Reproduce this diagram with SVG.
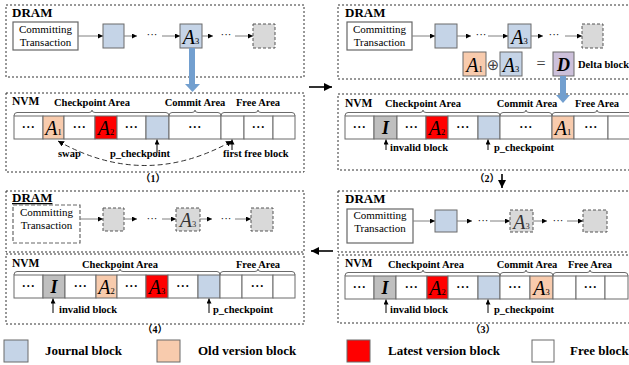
<svg xmlns="http://www.w3.org/2000/svg" width="629" height="365" viewBox="0 0 629 365">
<style>
text{font-family:"Liberation Serif","Times New Roman",serif;fill:#000}
.panel{fill:none;stroke:#333;stroke-width:1;stroke-dasharray:2,2}
.ttl{font-size:13px;font-weight:bold}
.area{font-size:10.5px;font-weight:bold;text-anchor:middle}
.ct{font-size:11px;text-anchor:middle}
.box{fill:#fff;stroke:#666;stroke-width:1.2}
.cell{stroke:#6b6b6b;stroke-width:1}
.j{fill:#c5d4e7}.o{fill:#f8cbad}.r{fill:#ff0000}.w{fill:#fff}.g{fill:#bfbfbf}.p{fill:#ccc0da}
.dg{fill:#d9d9d9;stroke:#555;stroke-width:1;stroke-dasharray:3,2}
.dots{font-size:12px;font-weight:bold;text-anchor:middle;letter-spacing:0.5px}
.sdots{font-size:11px;text-anchor:middle}
.A{font-size:20px;font-style:italic;text-anchor:middle}
.sub{font-size:8.5px;font-style:normal}
.I{font-size:18px;font-style:italic;font-weight:bold;text-anchor:middle}
.lbl{font-size:10.5px;font-weight:bold}
.num{font-size:10px;font-weight:bold;text-anchor:middle;font-family:"Liberation Serif","Noto Sans CJK SC",serif}
.leg{font-size:13px;font-weight:bold}
.brace{fill:none;stroke:#6b6b6b;stroke-width:1}
.fl{stroke:#808080;stroke-width:1;fill:none;marker-end:url(#ah)}
.up{stroke:#000;stroke-width:1;fill:none;marker-end:url(#ah)}
.big{stroke:#000;stroke-width:1.6;fill:none;marker-end:url(#bh)}
.blue{fill:#729fcf}
</style>
<defs>
<marker id="ah" viewBox="0 0 6 6" refX="6" refY="3" markerWidth="5" markerHeight="5" orient="auto" markerUnits="userSpaceOnUse"><path d="M0,0 L6,3 L0,6 z" fill="#000"/></marker>
<marker id="as" viewBox="0 0 6 6" refX="6" refY="3" markerWidth="6" markerHeight="6" orient="auto-start-reverse" markerUnits="userSpaceOnUse"><path d="M0,0 L6,3 L0,6 z" fill="#000"/></marker>
<marker id="bh" viewBox="0 0 8 8" refX="8" refY="4" markerWidth="8" markerHeight="8" orient="auto" markerUnits="userSpaceOnUse"><path d="M0,0 L8,4 L0,8 z" fill="#000"/></marker>
</defs>

<!-- ================= Panel 1 (top-left) ================= -->
<g id="p1-dram">
<rect class="panel" x="6" y="5" width="298" height="72"/>
<text class="ttl" x="12" y="17">DRAM</text>
</g>
<g id="p1-tx"><rect class="box" x="13" y="22" width="65" height="28"/><text class="ct" x="45.5" y="33">Committing</text><text class="ct" x="45.5" y="46">Transaction</text></g>
<g id="p1-b1"><rect class="cell j" x="103" y="24" width="21" height="24"/></g>
<g id="p1-d1"><text class="sdots" x="152" y="38">···</text></g>
<g id="p1-b2"><rect class="cell j" x="180" y="24" width="22" height="24"/><text class="A" x="191" y="44">A<tspan class="sub">3</tspan></text></g>
<g id="p1-d2"><text class="sdots" x="226" y="38">···</text></g>
<g id="p1-b3"><rect class="dg" x="253" y="24" width="22" height="24"/></g>

<g id="p1-nvm">
<rect class="panel" x="6" y="93" width="298" height="79"/>
<text class="ttl" x="12" y="105" style="font-size:11.5px">NVM</text>
<text class="area" x="92" y="106">Checkpoint Area</text>
<text class="area" x="195" y="106">Commit Area</text>
<text class="area" x="258" y="106">Free Area</text>
<path class="brace" d="M14,116 Q14,112.5 17,112.5 L89,112.5 Q92,112.5 92,110 Q92,112.5 95,112.5 L166,112.5 Q169,112.5 169,116"/>
<path class="brace" d="M169,116 Q169,112.5 172,112.5 L192,112.5 Q195,112.5 195,110 Q195,112.5 198,112.5 L218,112.5 Q221,112.5 221,116"/>
<path class="brace" d="M221,116 Q221,112.5 224,112.5 L255,112.5 Q258,112.5 258,110 Q258,112.5 261,112.5 L292,112.5 Q295,112.5 295,116"/>
</g>
<g id="p1-c1"><rect class="cell w" x="14" y="116" width="29" height="23"/><text class="dots" x="28.5" y="131">···</text></g>
<g id="p1-c2"><rect class="cell o" x="43" y="116" width="21" height="23"/><text class="A" x="53.5" y="135">A<tspan class="sub">1</tspan></text></g>
<g id="p1-c3"><rect class="cell w" x="64" y="116" width="31" height="23"/><text class="dots" x="79.5" y="131">···</text></g>
<g id="p1-c4"><rect class="cell r" x="95" y="116" width="22" height="23"/><text class="A" x="106" y="135">A<tspan class="sub">2</tspan></text></g>
<g id="p1-c5"><rect class="cell w" x="117" y="116" width="29" height="23"/><text class="dots" x="131.5" y="131">···</text></g>
<g id="p1-c6"><rect class="cell j" x="146" y="116" width="23" height="23"/></g>
<g id="p1-c7"><rect class="cell w" x="169" y="116" width="52" height="23"/><text class="dots" x="195" y="131">···</text></g>
<g id="p1-c8"><rect class="cell w" x="221" y="116" width="23" height="23"/></g>
<g id="p1-c9"><rect class="cell w" x="244" y="116" width="29" height="23"/><text class="dots" x="258.5" y="131">···</text></g>
<g id="p1-c10"><rect class="cell w" x="273" y="116" width="22" height="23"/></g>
<g id="p1-labels">
<text class="lbl" x="58" y="157">swap</text>
<text class="lbl" x="110" y="157">p_checkpoint</text>
<text class="lbl" x="223" y="157">first free block</text>
<text class="num" x="153" y="182">（1）</text>
</g>

<!-- ================= Panel 2 (top-right) ================= -->
<g id="p2-dram">
<rect class="panel" x="338" y="5" width="300" height="74"/>
<text class="ttl" x="345" y="17">DRAM</text>
</g>
<g id="p2-tx"><rect class="box" x="347" y="22" width="65" height="28"/><text class="ct" x="379.5" y="33">Committing</text><text class="ct" x="379.5" y="46">Transaction</text></g>
<g id="p2-b1"><rect class="cell j" x="435" y="24" width="22" height="24"/></g>
<g id="p2-d1"><text class="sdots" x="481" y="38">···</text></g>
<g id="p2-b2"><rect class="cell j" x="508" y="24" width="23" height="24"/><text class="A" x="519.5" y="44">A<tspan class="sub">3</tspan></text></g>
<g id="p2-d2"><text class="sdots" x="554" y="38">···</text></g>
<g id="p2-b3"><rect class="dg" x="582" y="24" width="21" height="24"/></g>
<g id="p2-x1"><rect class="cell o" x="463" y="52" width="23" height="24"/><text class="A" x="474.5" y="72">A<tspan class="sub">1</tspan></text></g>
<g id="p2-op1"><text x="493" y="70" style="font-family:'DejaVu Sans',sans-serif;font-size:15px;text-anchor:middle;fill:#444">⊕</text></g>
<g id="p2-x2"><rect class="cell j" x="500" y="52" width="22" height="24"/><text class="A" x="511" y="72">A<tspan class="sub">3</tspan></text></g>
<g id="p2-op2"><text x="541" y="69" style="font-size:16px;text-anchor:middle;fill:#444">=</text></g>
<g id="p2-delta"><rect class="cell p" x="553" y="52" width="21" height="24"/><text class="I" x="563.5" y="71">D</text><text class="lbl" x="578" y="68">Delta block</text></g>

<g id="p2-nvm">
<rect class="panel" x="338" y="94" width="300" height="76"/>
<text class="ttl" x="345" y="107" style="font-size:11.5px">NVM</text>
<text class="area" x="423" y="107">Checkpoint Area</text>
<text class="area" x="527" y="107">Commit Area</text>
<text class="area" x="597" y="107">Free Area</text>
<path class="brace" d="M345,116 Q345,112.5 348,112.5 L420,112.5 Q423,112.5 423,110 Q423,112.5 426,112.5 L497,112.5 Q500,112.5 500,116"/>
<path class="brace" d="M500,116 Q500,112.5 503,112.5 L523,112.5 Q526,112.5 526,110 Q526,112.5 529,112.5 L549,112.5 Q552,112.5 552,116"/>
<path class="brace" d="M552,116 Q552,112.5 555,112.5 L594,112.5 Q597,112.5 597,110 Q597,112.5 600,112.5 L639,112.5 Q642,112.5 642,116"/>
</g>
<g id="p2-c1"><rect class="cell w" x="345" y="116" width="29" height="23"/><text class="dots" x="359.5" y="131">···</text></g>
<g id="p2-c2"><rect class="cell g" x="374" y="116" width="23" height="23"/><text class="I" x="385.5" y="134">I</text></g>
<g id="p2-c3"><rect class="cell w" x="397" y="116" width="29" height="23"/><text class="dots" x="411.5" y="131">···</text></g>
<g id="p2-c4"><rect class="cell r" x="426" y="116" width="22" height="23"/><text class="A" x="437" y="135">A<tspan class="sub">2</tspan></text></g>
<g id="p2-c5"><rect class="cell w" x="448" y="116" width="30" height="23"/><text class="dots" x="463" y="131">···</text></g>
<g id="p2-c6"><rect class="cell j" x="478" y="116" width="22" height="23"/></g>
<g id="p2-c7"><rect class="cell w" x="500" y="116" width="52" height="23"/><text class="dots" x="526" y="131">···</text></g>
<g id="p2-c8"><rect class="cell o" x="552" y="116" width="22" height="23"/><text class="A" x="563" y="135">A<tspan class="sub">1</tspan></text></g>
<g id="p2-c9"><rect class="cell w" x="574" y="116" width="34" height="23"/><text class="dots" x="591" y="131">···</text></g>
<g id="p2-c10"><rect class="cell w" x="608" y="116" width="32" height="23"/></g>
<g id="p2-labels">
<text class="lbl" x="390" y="151">invalid block</text>
<text class="lbl" x="494" y="151">p_checkpoint</text>
<text class="num" x="487" y="182">（2）</text>
</g>

<!-- ================= Panel 4 (bottom-left) ================= -->
<g id="p4-dram">
<rect class="panel" x="6" y="191" width="298" height="61"/>
<text class="ttl" x="12" y="202" text-decoration="underline">DRAM</text>
</g>
<g id="p4-tx"><rect class="box" x="13" y="205" width="67" height="38" style="stroke-dasharray:4,2"/><text class="ct" x="46.5" y="216">Committing</text><text class="ct" x="46.5" y="229">Transaction</text></g>
<g id="p4-b1"><rect class="dg" x="103" y="208" width="21" height="23"/></g>
<g id="p4-d1"><text class="sdots" x="152" y="222">···</text></g>
<g id="p4-b2"><rect class="dg" x="176" y="208" width="24" height="23"/><text class="A" x="188" y="227" style="fill:#333">A<tspan class="sub">3</tspan></text></g>
<g id="p4-d2"><text class="sdots" x="226" y="222">···</text></g>
<g id="p4-b3"><rect class="dg" x="251" y="208" width="22" height="23"/></g>

<g id="p4-nvm">
<rect class="panel" x="6" y="254" width="298" height="70"/>
<text class="ttl" x="12" y="267" style="font-size:11.5px">NVM</text>
<text class="area" x="120" y="268">Checkpoint Area</text>
<text class="area" x="258" y="268">Free Area</text>
<path class="brace" d="M14,275 Q14,271.5 17,271.5 L117,271.5 Q120,271.5 120,269 Q120,271.5 123,271.5 L217,271.5 Q220,271.5 220,275"/>
<path class="brace" d="M220,275 Q220,271.5 223,271.5 L255,271.5 Q258,271.5 258,269 Q258,271.5 261,271.5 L292,271.5 Q295,271.5 295,275"/>
</g>
<g id="p4-c1"><rect class="cell w" x="14" y="275" width="29" height="23"/><text class="dots" x="28.5" y="290">···</text></g>
<g id="p4-c2"><rect class="cell g" x="43" y="275" width="22" height="23"/><text class="I" x="54" y="293">I</text></g>
<g id="p4-c3"><rect class="cell w" x="65" y="275" width="31" height="23"/><text class="dots" x="80.5" y="290">···</text></g>
<g id="p4-c4"><rect class="cell o" x="96" y="275" width="21" height="23"/><text class="A" x="106.5" y="294">A<tspan class="sub">2</tspan></text></g>
<g id="p4-c5"><rect class="cell w" x="117" y="275" width="29" height="23"/><text class="dots" x="131.5" y="290">···</text></g>
<g id="p4-c6"><rect class="cell r" x="146" y="275" width="22" height="23"/><text class="A" x="157" y="294">A<tspan class="sub">3</tspan></text></g>
<g id="p4-c7"><rect class="cell w" x="168" y="275" width="30" height="23"/><text class="dots" x="183" y="290">···</text></g>
<g id="p4-c8"><rect class="cell j" x="198" y="275" width="22" height="23"/></g>
<g id="p4-c9"><rect class="cell w" x="220" y="275" width="22" height="23"/></g>
<g id="p4-c10"><rect class="cell w" x="242" y="275" width="31" height="23"/><text class="dots" x="257.5" y="290">···</text></g>
<g id="p4-c11"><rect class="cell w" x="273" y="275" width="22" height="23"/></g>
<g id="p4-labels">
<text class="lbl" x="59" y="313">invalid block</text>
<text class="lbl" x="213" y="313">p_checkpoint</text>
<text class="num" x="155" y="333">（4）</text>
</g>

<!-- ================= Panel 3 (bottom-right) ================= -->
<g id="p3-dram">
<rect class="panel" x="338" y="191" width="300" height="61"/>
<text class="ttl" x="345" y="203">DRAM</text>
</g>
<g id="p3-tx"><rect class="box" x="347" y="209" width="66" height="34"/><text class="ct" x="380" y="219">Committing</text><text class="ct" x="380" y="232">Transaction</text></g>
<g id="p3-b1"><rect class="cell j" x="435" y="210" width="22" height="22"/></g>
<g id="p3-d1"><text class="sdots" x="483" y="224">···</text></g>
<g id="p3-b2"><rect class="dg" x="510" y="210" width="23" height="22"/><text class="A" x="521.5" y="229" style="fill:#333">A<tspan class="sub">3</tspan></text></g>
<g id="p3-d2"><text class="sdots" x="558" y="224">···</text></g>
<g id="p3-b3"><rect class="dg" x="583" y="210" width="24" height="22"/></g>

<g id="p3-nvm">
<rect class="panel" x="338" y="255" width="300" height="68"/>
<text class="ttl" x="345" y="267" style="font-size:11.5px">NVM</text>
<text class="area" x="426" y="268">Checkpoint Area</text>
<text class="area" x="527" y="268">Commit Area</text>
<text class="area" x="590" y="268">Free Area</text>
<path class="brace" d="M345,276 Q345,272.5 348,272.5 L420,272.5 Q423,272.5 423,270 Q423,272.5 426,272.5 L497,272.5 Q500,272.5 500,276"/>
<path class="brace" d="M500,276 Q500,272.5 503,272.5 L523,272.5 Q526,272.5 526,270 Q526,272.5 529,272.5 L550,272.5 Q553,272.5 553,276"/>
<path class="brace" d="M553,276 Q553,272.5 556,272.5 L587,272.5 Q590,272.5 590,270 Q590,272.5 593,272.5 L625,272.5 Q628,272.5 628,276"/>
</g>
<g id="p3-c1"><rect class="cell w" x="345" y="276" width="29" height="23"/><text class="dots" x="359.5" y="291">···</text></g>
<g id="p3-c2"><rect class="cell g" x="374" y="276" width="22" height="23"/><text class="I" x="385" y="294">I</text></g>
<g id="p3-c3"><rect class="cell w" x="396" y="276" width="31" height="23"/><text class="dots" x="411.5" y="291">···</text></g>
<g id="p3-c4"><rect class="cell r" x="427" y="276" width="21" height="23"/><text class="A" x="437.5" y="295">A<tspan class="sub">2</tspan></text></g>
<g id="p3-c5"><rect class="cell w" x="448" y="276" width="30" height="23"/><text class="dots" x="463" y="291">···</text></g>
<g id="p3-c6"><rect class="cell j" x="478" y="276" width="22" height="23"/></g>
<g id="p3-c7"><rect class="cell w" x="500" y="276" width="30" height="23"/><text class="dots" x="515" y="291">···</text></g>
<g id="p3-c8"><rect class="cell o" x="530" y="276" width="23" height="23"/><text class="A" x="541.5" y="295">A<tspan class="sub">3</tspan></text></g>
<g id="p3-c9"><rect class="cell w" x="553" y="276" width="23" height="23"/></g>
<g id="p3-c10"><rect class="cell w" x="576" y="276" width="29" height="23"/><text class="dots" x="590.5" y="291">···</text></g>
<g id="p3-c11"><rect class="cell w" x="605" y="276" width="23" height="23"/></g>
<g id="p3-labels">
<text class="lbl" x="390" y="313">invalid block</text>
<text class="lbl" x="494" y="313">p_checkpoint</text>
<text class="num" x="483" y="333">（3）</text>
</g>

<!-- ================= Legend ================= -->
<g id="legend-journal"><rect class="cell j" x="4" y="340" width="24" height="22"/><text class="leg" x="45" y="355">Journal block</text></g>
<g id="legend-old"><rect class="cell o" x="157" y="340" width="23" height="22"/><text class="leg" x="198" y="355">Old version block</text></g>
<g id="legend-latest"><rect class="cell r" x="347" y="340" width="23" height="22"/><text class="leg" x="388" y="355">Latest version block</text></g>
<g id="legend-free"><rect class="cell w" x="532" y="340" width="22" height="22"/><text class="leg" x="570" y="355">Free block</text></g>

<!-- ================= Connectors ================= -->
<g id="connectors">
<line class="fl" x1="78" y1="36" x2="103" y2="36"/>
<line class="fl" x1="124" y1="36" x2="137" y2="36"/>
<line class="fl" x1="162" y1="36" x2="180" y2="36"/>
<line class="fl" x1="202" y1="36" x2="213" y2="36"/>
<line class="fl" x1="235" y1="36" x2="253" y2="36"/>
<polygon class="blue" points="189,48 195,48 195,84 200,84 192.5,92 185,84 189,84"/>
<line class="up" x1="157" y1="153" x2="157" y2="139.5"/>
<line class="up" x1="232" y1="150" x2="232" y2="139.5"/>
<path d="M58,141 Q145,190 232,141" fill="none" stroke="#333" stroke-width="1" stroke-dasharray="5,3" marker-start="url(#as)" marker-end="url(#as)"/>
<line class="fl" x1="412" y1="36" x2="435" y2="36"/>
<line class="fl" x1="457" y1="36" x2="471" y2="36"/>
<line class="fl" x1="488" y1="36" x2="508" y2="36"/>
<line class="fl" x1="531" y1="36" x2="543" y2="36"/>
<line class="fl" x1="565" y1="36" x2="582" y2="36"/>
<polygon class="blue" points="560,76 566,76 566,95 570,95 563,103 556,95 560,95"/>
<line class="up" x1="386" y1="150" x2="386" y2="139.5"/>
<line class="up" x1="488" y1="150" x2="488" y2="139.5"/>
<line class="fl" x1="80" y1="219" x2="103" y2="219"/>
<line class="fl" x1="124" y1="219" x2="137" y2="219"/>
<line class="fl" x1="162" y1="219" x2="176" y2="219"/>
<line class="fl" x1="200" y1="219" x2="212" y2="219"/>
<line class="fl" x1="235" y1="219" x2="251" y2="219"/>
<line class="up" x1="53" y1="313" x2="53" y2="298.5"/>
<line class="up" x1="209" y1="313" x2="209" y2="298.5"/>
<line class="fl" x1="413" y1="221" x2="435" y2="221"/>
<line class="fl" x1="457" y1="221" x2="472" y2="221"/>
<line class="fl" x1="490" y1="221" x2="510" y2="221"/>
<line class="fl" x1="533" y1="221" x2="547" y2="221"/>
<line class="fl" x1="567" y1="221" x2="583" y2="221"/>
<line class="up" x1="386" y1="313" x2="386" y2="299.5"/>
<line class="up" x1="488" y1="313" x2="488" y2="299.5"/>
<line class="big" x1="309" y1="87" x2="332" y2="87"/>
<line class="big" x1="502" y1="174" x2="502" y2="188"/>
<line class="big" x1="333" y1="251" x2="311" y2="251"/>
</g>
</svg>
